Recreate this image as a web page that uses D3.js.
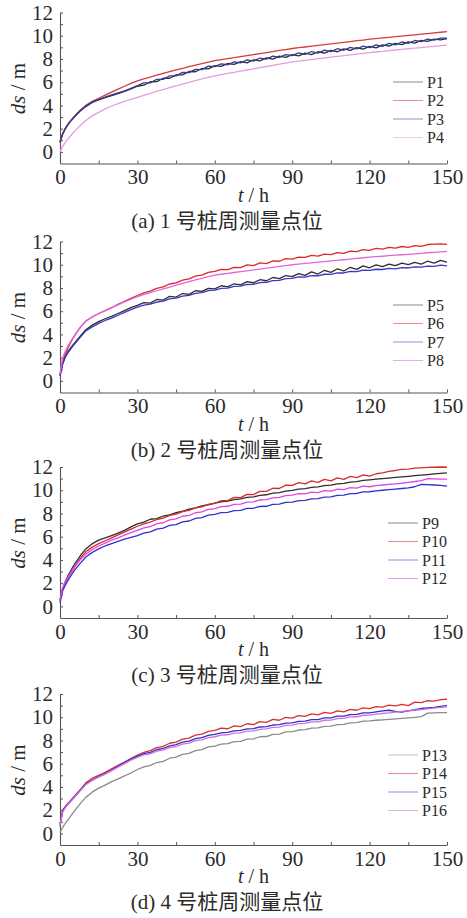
<!DOCTYPE html>
<html>
<head>
<meta charset="utf-8">
<script src="https://cdn.jsdelivr.net/npm/d3@7"></script>
<style>
  html, body { margin: 0; padding: 0; background: #fff; }
  svg { display: block; }
  text { font-family: "Times New Roman", "Liberation Serif", Tinos, serif; fill: #2a2a2a; }
  .cjk { font-family: "Noto Sans CJK SC", sans-serif; }
</style>
</head>
<body>
<svg id="chart" width="467" height="918"></svg>
<script>
// tiempo (h)
const hours = [0,1,2,3,4,5,6,8,10,12.5,15,17.5,20,22.5,25,27.5,30,32.5,35,37.5,40,42.5,45,47.5,50,52.5,55,57.5,60,62.5,65,67.5,70,72.5,75,77.5,80,82.5,85,87.5,90,92.5,95,97.5,100,102.5,105,107.5,110,112.5,115,117.5,120,122.5,125,127.5,130,132.5,135,137.5,140,142.5,145,147.5,150];

// (a) 1号桩
const P1 = [0.8,1.5,1.95,2.3,2.6,2.85,3.1,3.55,3.9,4.25,4.48,4.68,4.85,5.02,5.2,5.42,5.65,5.74,6.04,6.05,6.34,6.34,6.63,6.63,6.92,6.9,7.18,7.15,7.42,7.36,7.61,7.53,7.77,7.67,7.93,7.84,8.09,7.99,8.24,8.13,8.37,8.26,8.5,8.38,8.62,8.5,8.74,8.62,8.87,8.74,8.98,8.85,9.08,8.96,9.22,9.11,9.35,9.23,9.47,9.37,9.6,9.51,9.7,9.65,9.75];
const P2 = [0.85,1.55,2.0,2.35,2.65,2.9,3.15,3.6,4.0,4.35,4.62,4.88,5.15,5.4,5.65,5.9,6.12,6.28,6.44,6.6,6.75,6.9,7.05,7.19,7.33,7.46,7.59,7.72,7.85,7.94,8.03,8.11,8.2,8.29,8.38,8.46,8.55,8.64,8.73,8.81,8.9,8.97,9.03,9.1,9.17,9.23,9.3,9.37,9.43,9.5,9.57,9.63,9.7,9.75,9.81,9.86,9.92,9.97,10.03,10.08,10.13,10.19,10.24,10.3,10.35];
const P3 = [0.9,1.55,2.0,2.35,2.65,2.9,3.15,3.6,3.95,4.3,4.52,4.72,4.9,5.07,5.25,5.47,5.7,5.94,5.94,6.25,6.24,6.55,6.54,6.84,6.82,7.11,7.08,7.38,7.34,7.57,7.5,7.75,7.66,7.92,7.82,8.08,7.98,8.24,8.13,8.38,8.28,8.52,8.39,8.64,8.51,8.76,8.63,8.88,8.75,9.0,8.86,9.11,8.98,9.22,9.09,9.34,9.22,9.46,9.35,9.59,9.49,9.71,9.62,9.8,9.8];
const P4 = [0.0,0.45,0.8,1.1,1.35,1.6,1.85,2.3,2.7,3.1,3.4,3.7,3.95,4.15,4.35,4.52,4.7,4.87,5.04,5.21,5.37,5.53,5.69,5.84,5.99,6.14,6.28,6.42,6.55,6.65,6.75,6.85,6.95,7.05,7.15,7.25,7.35,7.45,7.55,7.65,7.75,7.82,7.88,7.95,8.02,8.08,8.15,8.22,8.28,8.35,8.42,8.48,8.55,8.6,8.66,8.71,8.77,8.82,8.88,8.93,8.98,9.04,9.09,9.15,9.2];

// (b) 2号桩
const P5 = [0.5,1.5,2.1,2.5,2.8,3.1,3.35,3.9,4.4,4.8,5.1,5.35,5.55,5.8,6.05,6.3,6.5,6.74,6.7,7.01,6.96,7.28,7.22,7.52,7.45,7.76,7.7,7.97,7.92,8.19,8.1,8.36,8.27,8.54,8.45,8.71,8.62,8.9,8.8,9.07,8.97,9.24,9.08,9.38,9.2,9.52,9.34,9.65,9.46,9.78,9.6,9.9,9.74,9.98,9.84,10.06,9.92,10.14,10.0,10.2,10.06,10.3,10.14,10.38,10.22];
const P6 = [0.5,1.6,2.3,2.8,3.25,3.65,4.0,4.65,5.15,5.5,5.8,6.05,6.3,6.6,6.85,7.1,7.35,7.58,7.72,7.96,8.09,8.34,8.44,8.68,8.78,9.02,9.1,9.34,9.42,9.6,9.58,9.78,9.75,9.98,9.92,10.16,10.1,10.34,10.3,10.52,10.48,10.66,10.63,10.8,10.74,10.92,10.87,11.05,10.98,11.17,11.12,11.3,11.24,11.4,11.34,11.49,11.43,11.57,11.5,11.65,11.58,11.74,11.78,11.8,11.76];
const P7 = [0.4,1.4,2.0,2.4,2.7,3.0,3.25,3.8,4.3,4.65,4.95,5.2,5.4,5.65,5.9,6.13,6.35,6.52,6.6,6.79,6.86,7.06,7.12,7.3,7.37,7.54,7.6,7.77,7.82,7.96,7.99,8.13,8.15,8.3,8.32,8.46,8.49,8.63,8.65,8.8,8.82,8.95,8.94,9.07,9.05,9.18,9.17,9.3,9.29,9.42,9.4,9.53,9.52,9.61,9.59,9.68,9.65,9.75,9.72,9.81,9.79,9.88,9.85,9.96,9.9];
const P8 = [0.6,2.0,2.5,2.95,3.35,3.7,4.05,4.65,5.15,5.5,5.8,6.05,6.3,6.55,6.8,7.03,7.25,7.42,7.59,7.76,7.92,8.08,8.24,8.39,8.54,8.69,8.83,8.97,9.1,9.18,9.25,9.33,9.4,9.48,9.55,9.63,9.7,9.78,9.85,9.93,10.0,10.05,10.11,10.16,10.22,10.27,10.33,10.38,10.43,10.49,10.54,10.6,10.65,10.69,10.73,10.78,10.82,10.86,10.9,10.94,10.98,11.03,11.07,11.11,11.15];

// (c) 3号桩
const P9 = [0.5,1.5,2.1,2.6,3.0,3.4,3.75,4.4,4.95,5.4,5.7,5.9,6.1,6.3,6.55,6.85,7.1,7.25,7.5,7.55,7.78,7.88,8.08,8.19,8.38,8.48,8.65,8.75,8.9,9.0,9.06,9.2,9.25,9.38,9.43,9.56,9.61,9.75,9.8,9.93,9.98,10.09,10.14,10.24,10.29,10.39,10.44,10.54,10.59,10.69,10.74,10.84,10.89,10.95,11.0,11.05,11.1,11.15,11.2,11.25,11.3,11.35,11.4,11.45,11.5];
const P10 = [0.6,1.5,2.0,2.4,2.8,3.15,3.5,4.15,4.7,5.1,5.4,5.65,5.9,6.15,6.4,6.65,6.9,7.11,7.25,7.48,7.6,7.83,7.94,8.16,8.27,8.48,8.57,8.78,8.87,9.1,9.1,9.38,9.36,9.64,9.63,9.9,9.9,10.17,10.15,10.44,10.42,10.66,10.55,10.8,10.68,10.93,10.8,11.07,10.94,11.2,11.08,11.32,11.22,11.42,11.5,11.62,11.7,11.8,11.82,11.9,11.93,11.97,11.98,12.0,11.98];
const P11 = [0.3,1.3,1.8,2.2,2.55,2.9,3.2,3.75,4.25,4.65,4.95,5.2,5.4,5.6,5.8,5.95,6.1,6.3,6.41,6.65,6.73,6.97,7.04,7.28,7.35,7.58,7.64,7.86,7.92,8.07,8.1,8.25,8.27,8.43,8.45,8.6,8.62,8.78,8.8,8.95,8.97,9.1,9.13,9.26,9.27,9.41,9.42,9.56,9.57,9.71,9.72,9.86,9.87,9.95,10.0,10.05,10.1,10.15,10.2,10.3,10.5,10.48,10.45,10.42,10.35];
const P12 = [0.5,1.6,2.1,2.5,2.85,3.2,3.5,4.05,4.5,4.9,5.2,5.45,5.7,5.9,6.13,6.35,6.55,6.76,6.87,7.11,7.2,7.45,7.53,7.76,7.84,8.06,8.13,8.35,8.42,8.58,8.62,8.78,8.8,8.97,9.0,9.16,9.19,9.35,9.38,9.54,9.57,9.7,9.69,9.84,9.8,9.96,9.92,10.1,10.05,10.22,10.18,10.36,10.3,10.4,10.45,10.5,10.55,10.6,10.68,10.75,10.82,11.0,10.98,10.95,10.95];

// (d) 4号桩
const P13 = [0.1,0.5,0.85,1.15,1.45,1.75,2.05,2.6,3.1,3.55,3.9,4.15,4.45,4.7,4.95,5.2,5.5,5.72,5.85,6.1,6.2,6.47,6.56,6.8,6.89,7.13,7.21,7.44,7.51,7.69,7.72,7.9,7.93,8.11,8.14,8.32,8.34,8.53,8.55,8.74,8.76,8.9,8.93,9.06,9.08,9.21,9.23,9.36,9.38,9.51,9.53,9.66,9.68,9.74,9.78,9.82,9.86,9.9,9.94,9.98,10.05,10.35,10.38,10.4,10.4];
const P14 = [0.6,2.0,2.3,2.55,2.8,3.05,3.3,3.8,4.35,4.75,5.0,5.25,5.55,5.85,6.15,6.45,6.75,6.98,7.12,7.38,7.49,7.76,7.86,8.11,8.2,8.46,8.54,8.78,8.86,9.06,9.01,9.26,9.19,9.44,9.37,9.62,9.55,9.81,9.74,9.99,9.92,10.14,10.07,10.28,10.2,10.41,10.33,10.55,10.46,10.68,10.6,10.8,10.74,10.92,10.87,11.05,10.98,11.1,11.0,11.3,11.25,11.42,11.38,11.52,11.55];
const P15 = [0.8,1.9,2.25,2.5,2.75,3.0,3.25,3.75,4.25,4.6,4.9,5.15,5.45,5.8,6.1,6.4,6.65,6.86,6.98,7.2,7.31,7.54,7.64,7.85,7.95,8.15,8.24,8.44,8.52,8.66,8.69,8.83,8.86,9.0,9.02,9.16,9.19,9.33,9.36,9.5,9.52,9.65,9.67,9.8,9.8,9.94,9.95,10.09,10.1,10.23,10.24,10.37,10.38,10.47,10.55,10.6,10.5,10.45,10.55,10.65,10.75,10.8,10.85,10.93,11.0];
const P16 = [0.7,1.8,2.2,2.45,2.7,2.95,3.2,3.7,4.2,4.55,4.85,5.1,5.4,5.7,6.0,6.3,6.55,6.75,6.85,7.08,7.17,7.39,7.48,7.69,7.78,7.98,8.05,8.25,8.32,8.46,8.49,8.63,8.65,8.8,8.82,8.96,8.99,9.13,9.15,9.3,9.32,9.45,9.47,9.6,9.6,9.74,9.75,9.89,9.9,10.03,10.04,10.17,10.18,10.26,10.32,10.38,10.44,10.5,10.55,10.6,10.66,10.72,10.78,10.84,10.9];

const xTickValues = [0, 15, 30, 45, 60, 75, 90, 105, 120, 135, 150];
const yTickValues = [0, 1, 2, 3, 4, 5, 6, 7, 8, 9, 10, 11, 12];
const captionPrefixes = ['(a) 1', '(b) 2', '(c) 3', '(d) 4'];
const captionText = '号桩周测量点位';
const legendNames = [['P1', 'P2', 'P3', 'P4'], ['P5', 'P6', 'P7', 'P8'], ['P9', 'P10', 'P11', 'P12'], ['P13', 'P14', 'P15', 'P16']];
const lineColors = [
  ['#2e2e2e', '#d93a3a', '#343c98', '#e79be6'],
  ['#2e2e2e', '#d82a2a', '#3838c8', '#e266e0'],
  ['#2e2e2e', '#d82a2a', '#3030d0', '#e046e0'],
  ['#8a8a8a', '#d83030', '#3030c8', '#d070e0']
];
const seriesByPanel = [[P1, P2, P3, P4], [P5, P6, P7, P8], [P9, P10, P11, P12], [P13, P14, P15, P16]];

// Layout
const margins = { left: 60 };
const plotWidth = 387;
const plotHeight = 151;
const panelTops = [12.5, 241.5, 467, 694];
const legendTops = [82, 305, 523, 755];
const legendX = [393, 393, 388, 388];
const legendRow = 18.5;

const svg = d3.select('#chart');

const x = d3.scaleLinear().domain([0, 150]).range([margins.left, margins.left + plotWidth]);

panelTops.forEach((top, p) => {
  const y = d3.scaleLinear().domain([-1, 12]).range([top + plotHeight, top]);
  const g = svg.append('g').attr('class', 'panel');
  const bottom = top + plotHeight;

  // Ejes
  const yAxis = d3.axisLeft(y)
    .tickValues(yTickValues)
    .tickSizeInner(-3)
    .tickSizeOuter(0)
    .tickPadding(7)
    .tickFormat(d => d % 2 === 0 ? d : '');
  const xAxis = d3.axisBottom(x)
    .tickValues(xTickValues)
    .tickSizeInner(-3)
    .tickSizeOuter(0)
    .tickPadding(5)
    .tickFormat(d => d % 30 === 0 ? d : '');

  const gy = g.append('g').attr('transform', `translate(${margins.left},0)`).call(yAxis);
  const gx = g.append('g').attr('transform', `translate(0,${bottom})`).call(xAxis);
  [gx, gy].forEach(a => {
    a.selectAll('path.domain').attr('stroke', '#555').attr('stroke-width', 1.1);
    a.selectAll('.tick line').attr('stroke', '#555');
    a.selectAll('.tick text')
      .attr('fill', '#2a2a2a')
      .style('font-family', '"Times New Roman", "Liberation Serif", Tinos, serif')
      .style('font-size', '21px');
  });
  gx.selectAll('.tick text').attr('dy', '0.75em');

  // Títulos de ejes
  const yl = g.append('text')
    .attr('transform', `translate(25,${top + 76}) rotate(-90)`)
    .attr('text-anchor', 'middle')
    .style('font-size', '21px');
  yl.append('tspan').style('font-style', 'italic').text('ds');
  yl.append('tspan').text(' / m');

  const xl = g.append('text')
    .attr('x', margins.left + plotWidth / 2)
    .attr('y', bottom + 38)
    .attr('text-anchor', 'middle')
    .style('font-size', '20px');
  xl.append('tspan').style('font-style', 'italic').text('t');
  xl.append('tspan').text(' / h');

  const cap = g.append('text')
    .attr('x', 227)
    .attr('y', bottom + 64)
    .attr('text-anchor', 'middle')
    .style('font-size', '21px');
  cap.append('tspan').text(captionPrefixes[p] + ' ');
  cap.append('tspan').attr('class', 'cjk').style('font-size', '21px').text(captionText);

  // Curvas
  const line = d3.line()
    .x((d, i) => x(hours[i]))
    .y(d => y(d));

  g.append('g').selectAll('path.data')
    .data(seriesByPanel[p])
    .join('path')
    .attr('class', 'data')
    .attr('fill', 'none')
    .attr('stroke', (d, i) => lineColors[p][i])
    .attr('stroke-width', 1.3)
    .attr('stroke-linejoin', 'round')
    .attr('d', line);

  // Leyenda
  const items = g.append('g').selectAll('g.legend-item')
    .data(legendNames[p])
    .join('g')
    .attr('class', 'legend-item')
    .attr('transform', (d, i) => `translate(${legendX[p]},${legendTops[p] + i * legendRow})`);
  items.append('line')
    .attr('x1', 0).attr('x2', 30)
    .attr('stroke', (d, i) => lineColors[p][i])
    .attr('stroke-opacity', 0.55)
    .attr('stroke-width', 1);
  items.append('text')
    .attr('x', 34)
    .attr('dy', '0.35em')
    .style('font-size', '16px')
    .text(d => d);
});
</script>
</body>
</html>
